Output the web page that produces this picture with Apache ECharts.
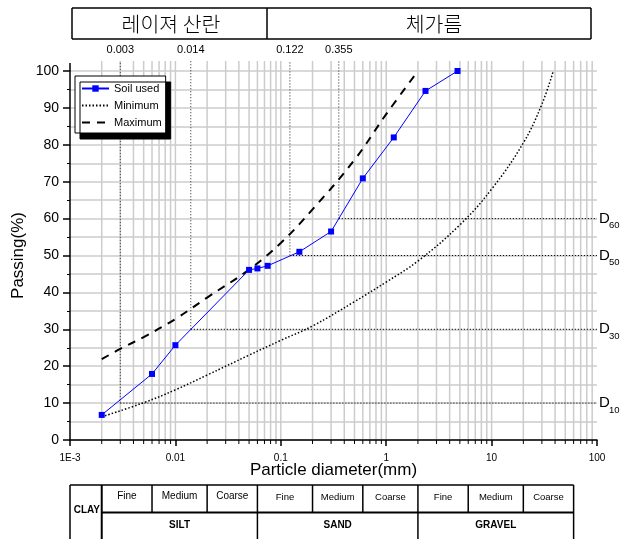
<!DOCTYPE html>
<html><head><meta charset="utf-8">
<script src="https://cdn.jsdelivr.net/npm/echarts@6/dist/echarts.min.js"></script>
<style>html,body{margin:0;padding:0;background:#fff}#c{width:620px;height:539px}</style>
</head><body><div id="c"></div>
<script>
// ---- data ----
const soilSize = [0.002, 0.006, 0.01, 0.05, 0.06, 0.075, 0.15, 0.3, 0.6, 1.18, 2.36, 4.75];
const soilPassing = [6.8, 17.9, 25.7, 46.1, 46.5, 47.2, 51.0, 56.5, 70.9, 82.0, 94.6, 100];
const maxSize = [0.002, 0.003, 0.005, 0.01, 0.02, 0.05, 0.1, 0.2, 0.5, 1, 2];
const maxPassing = [21.9, 24.7, 27.9, 32.8, 38.6, 46.2, 53.4, 62.5, 75.9, 88.3, 100];
const minSize = [0.002, 0.005, 0.01, 0.02, 0.05, 0.1, 0.2, 0.5, 1, 2, 5, 10, 20, 30, 38.5];
const minPassing = [6.3, 10.1, 13.6, 17.6, 23, 27, 30.9, 37.5, 42.8, 48.5, 58.3, 68, 80.5, 91, 100];
const dPercent = [10, 30, 50, 60];
const dSize = [0.003, 0.014, 0.122, 0.355];
const dSizeLabels = ['0.003', '0.014', '0.122', '0.355'];
const xMajorTicks = [0.001, 0.01, 0.1, 1, 10, 100];
const xMajorLabels = ['1E-3', '0.01', '0.1', '1', '10', '100'];
const xGridDecades = [0.01, 0.1, 1, 10];
const xMinorTicks = [0.002,0.003,0.004,0.005,0.006,0.007,0.008,0.009,
  0.02,0.03,0.04,0.05,0.06,0.07,0.08,0.09,
  0.2,0.3,0.4,0.5,0.6,0.7,0.8,0.9,
  2,3,4,5,6,7,8,9,
  20,30,40,50,60,70,80,90];
const xTitle = 'Particle diameter(mm)';
const yTitle = 'Passing(%)';
const headerLabels = ['레이져 산란', '체가름'];
const headerBounds = [72, 267, 591];
const tableBounds = [0.001, 0.002, 0.006, 0.02, 0.06, 0.2, 0.6, 2, 6, 20, 60];
const subLabels = ['Fine','Medium','Coarse','Fine','Medium','Coarse','Fine','Medium','Coarse'];
const groupLabels = ['SILT', 'SAND', 'GRAVEL'];
const clayLabel = 'CLAY';

const FONT = 'Liberation Sans, Arial, sans-serif';
const chart = echarts.init(document.getElementById('c'), null, {renderer: 'canvas'});

const option = {
  animation: false,
  backgroundColor: '#fff',
  grid: {left: 70, right: 23, top: 71, bottom: 99},
  legend: {
    left: 75, top: 76, orient: 'vertical',
    data: [
      {name: 'Soil used'},
      {name: 'Minimum', itemStyle: {opacity: 0}},
      {name: 'Maximum', itemStyle: {opacity: 0}}
    ],
    itemWidth: 27, itemHeight: 8, itemGap: 6,
    padding: [7, 4, 5, 6],
    borderColor: '#000', borderWidth: 1, backgroundColor: '#fff',
    shadowColor: '#000', shadowOffsetX: 5, shadowOffsetY: 6, shadowBlur: 0,
    selectedMode: false,
    textStyle: {fontFamily: FONT, fontSize: 11, color: '#000'}
  },
  xAxis: {
    type: 'log', logBase: 10, min: 0.001, max: 100,
    axisLine: {show: true, lineStyle: {color: '#000', width: 1.5}},
    axisTick: {show: true, inside: false, length: 6, lineStyle: {color: '#000', width: 1.5}},
    splitLine: {show: false},
    axisLabel: {
      fontFamily: FONT, fontSize: 10, color: '#000', margin: 13,
      formatter: function (v) {
        for (let i = 0; i < xMajorTicks.length; i++) {
          if (Math.abs(Math.log10(v) - Math.log10(xMajorTicks[i])) < 1e-6) return xMajorLabels[i];
        }
        return '';
      }
    }
  },
  yAxis: {
    type: 'value', min: 0, max: 100, interval: 10,
    axisLine: {show: true, lineStyle: {color: '#000', width: 1.5}},
    axisTick: {show: true, inside: false, length: 7, lineStyle: {color: '#000', width: 1.5}},
    minorTick: {show: true, splitNumber: 2, length: 3, lineStyle: {color: '#000', width: 1}},
    splitLine: {show: true, lineStyle: {color: '#cccccc', width: 1.5}},
    minorSplitLine: {show: true, lineStyle: {color: '#cccccc', width: 1.5}},
    axisLabel: {fontFamily: FONT, fontSize: 14, color: '#000', margin: 11}
  },
  series: [
    {
      name: 'Minimum', type: 'line', z: 3,
      data: minSize.map((x, i) => [x, minPassing[i]]),
      symbol: 'none', smooth: 0.4,
      lineStyle: {color: '#000', width: 1.5, type: [1.5, 2]},
      itemStyle: {color: '#000'}
    },
    {
      name: 'Maximum', type: 'line', z: 3,
      data: maxSize.map((x, i) => [x, maxPassing[i]]),
      symbol: 'none', smooth: 0.4,
      lineStyle: {color: '#000', width: 2, type: [8, 7]},
      itemStyle: {color: '#000'}
    },
    {
      name: 'Soil used', type: 'line', z: 5,
      data: soilSize.map((x, i) => [x, soilPassing[i]]),
      symbol: 'rect', symbolSize: 6,
      lineStyle: {color: '#0000ff', width: 1},
      itemStyle: {color: '#0000ff'}
    }
  ]
};
chart.setOption(option);

const px = v => chart.convertToPixel({xAxisIndex: 0}, v);
const py = v => chart.convertToPixel({yAxisIndex: 0}, v);
const y0 = py(0), y100 = py(100), yTop = y100 - 10;
const g = [];
const line = (x1, y1, x2, y2, stroke, lw, dash, z) => g.push({
  type: 'line', z: z || 0, silent: true,
  shape: {x1, y1, x2, y2},
  style: {stroke, lineWidth: lw, lineDash: dash || null}
});
const text = (x, y, t, size, opts, extra) => g.push(Object.assign({
  type: 'text', silent: true, z: 10, x, y,
  style: Object.assign({text: t, fontFamily: FONT, fontSize: size, fill: '#000', align: 'center', verticalAlign: 'middle'}, opts || {})
}, extra || {}));

// vertical grid lines (decades + minor) and minor ticks
xGridDecades.forEach(v => { const x = px(v); line(x, yTop, x, y0, '#cccccc', 1.5, null, 0); });
xMinorTicks.forEach(v => {
  const x = px(v);
  line(x, yTop, x, y0, '#cccccc', 1.5, null, 0);
  line(x, y0, x, y0 + 4, '#000', 1, null, 1);
});
// y axis extension
line(px(0.001), yTop + 2, px(0.001), y100, '#000', 1.5, null, 1);

// axis titles
text((px(0.001) + px(100)) / 2, y0 + 30, xTitle, 17);
text(18, (y0 + y100) / 2, yTitle, 17, null, {rotation: Math.PI / 2});

// D-lines
dSize.forEach((d, i) => {
  const x = px(d), y = py(dPercent[i]), xr = px(100);
  line(x, y, xr, y, '#111', 1, [1.2, 1.8], 1);
  line(x, y, x, yTop, '#444', 1, [1.2, 1.8], 1);
  text(x, yTop - 11, dSizeLabels[i], 11);
  text(xr + 2, y, 'D', 15, {align: 'left'});
  text(xr + 12, y + 7, String(dPercent[i]), 9.5, {align: 'left'});
});

// header box
line(headerBounds[0], 8, headerBounds[2], 8, '#000', 1.5, null, 1);
line(headerBounds[0], 39, headerBounds[2], 39, '#000', 1.5, null, 1);
headerBounds.forEach(x => line(x, 8, x, 39, '#000', 1.5, null, 1));
headerLabels.forEach((t, i) => {
  text((headerBounds[i] + headerBounds[i + 1]) / 2 + (i === 0 ? 1.5 : 5), 24, t, 20.5,
       {fontFamily: 'Noto Sans CJK KR', fontWeight: 300});
});

// classification table
const tTop = 485, tMid = 512.5, tBot = 548;
const tx = tableBounds.map(px);
line(tx[0], tTop, tx[10], tTop, '#000', 1.5, null, 1);
line(tx[1], tMid, tx[10], tMid, '#000', 2, null, 1);
line(tx[0], tTop, tx[0], tBot, '#000', 1.5, null, 1);
line(tx[1], tTop, tx[1], tBot, '#000', 2, null, 1);
for (let i = 2; i <= 10; i++) {
  const full = (i === 4 || i === 7 || i === 10);
  line(tx[i], tTop, tx[i], full ? tBot : tMid, '#000', 1.5, null, 1);
}
subLabels.forEach((t, i) => {
  text((tx[i + 1] + tx[i + 2]) / 2, i < 3 ? 496 : 497, t, i < 3 ? 10 : 9.5);
});
groupLabels.forEach((t, i) => {
  text((tx[1 + 3 * i] + tx[4 + 3 * i]) / 2, 525, t, 10, {fontWeight: 'bold'});
});
text((tx[0] + tx[1]) / 2 + 1, 510, clayLabel, 10, {fontWeight: 'bold'});

chart.setOption({graphic: {elements: g}});
</script>
</body></html>
